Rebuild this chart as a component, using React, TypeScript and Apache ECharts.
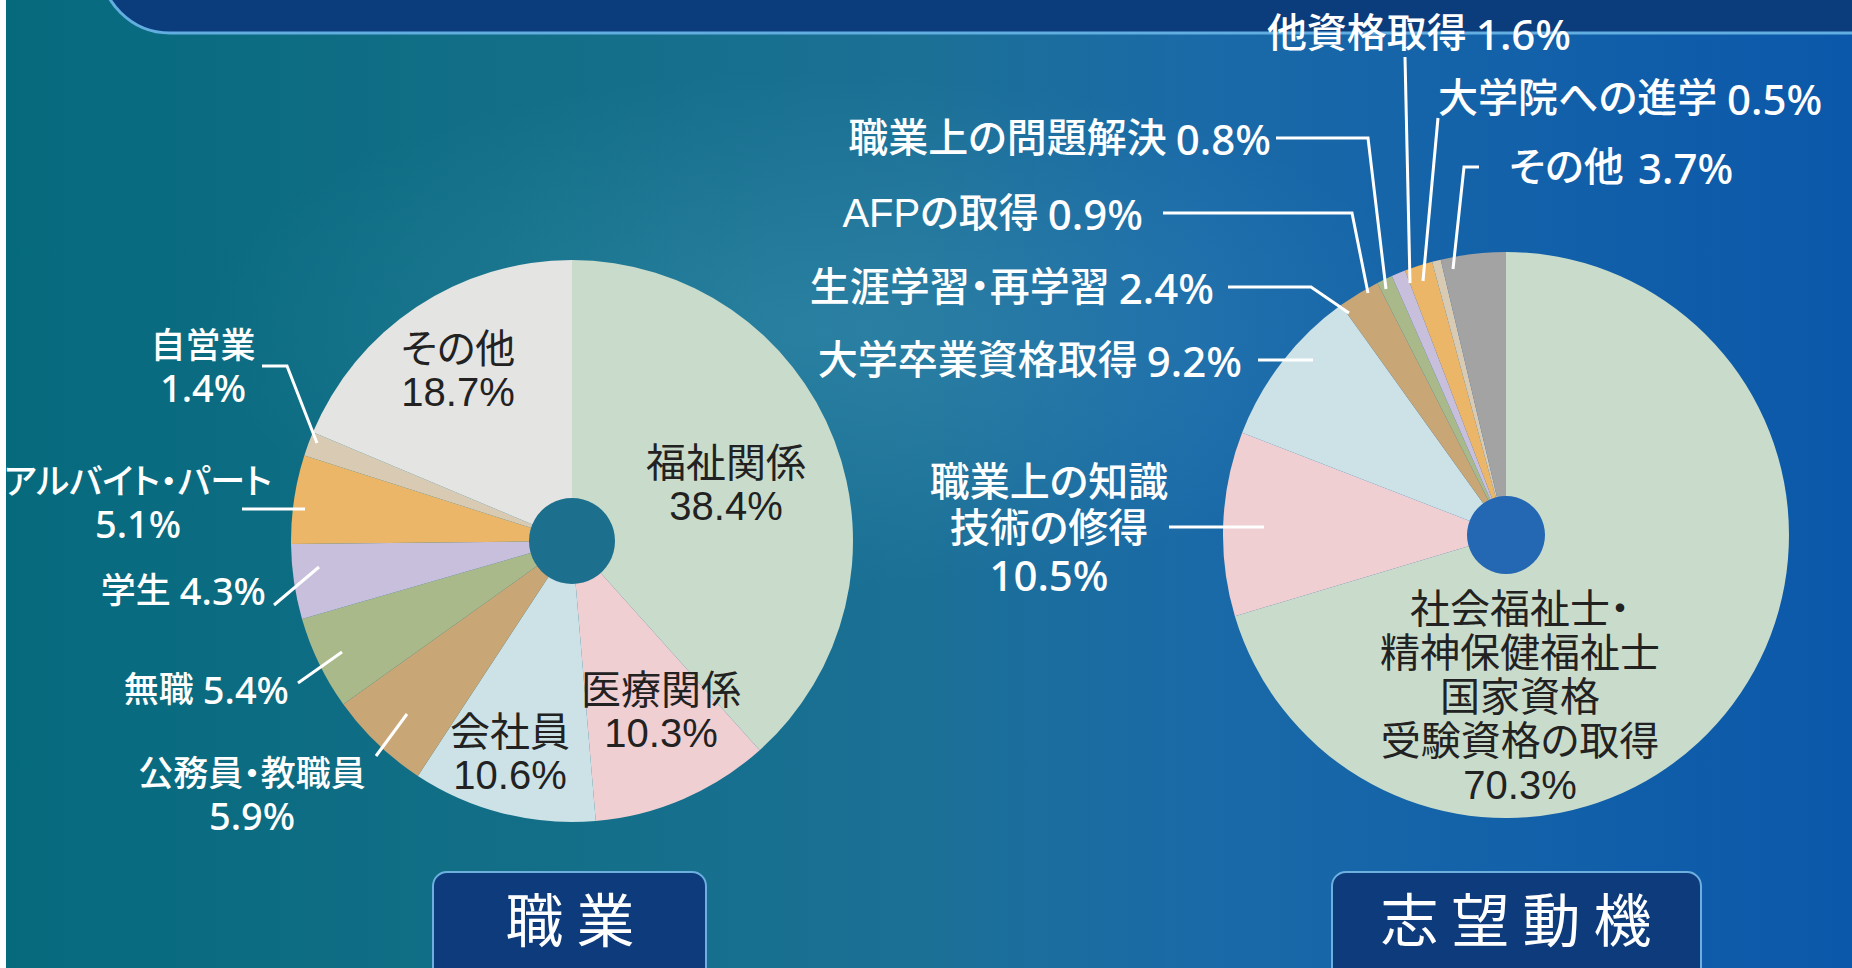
import React, { useEffect, useRef } from "react";
import * as echarts from "echarts";

// ---- data ----
const occupationNames = [
  "福祉関係",
  "医療関係",
  "会社員",
  "公務員・教職員",
  "無職",
  "学生",
  "アルバイト・パート",
  "自営業",
  "その他",
];
const occupationValues = [38.4, 10.3, 10.6, 5.9, 5.4, 4.3, 5.1, 1.4, 18.7];

const motiveNames = [
  "社会福祉士・\n精神保健福祉士\n国家資格\n受験資格の取得",
  "職業上の知識\n技術の修得",
  "大学卒業資格取得",
  "生涯学習・再学習",
  "AFPの取得",
  "職業上の問題解決",
  "他資格取得",
  "大学院への進学",
  "その他",
];
const motiveValues = [70.3, 10.5, 9.2, 2.4, 0.9, 0.8, 1.6, 0.5, 3.7];

const chartTitles = ["職 業", "志 望 動 機"];

// ---- styles ----
const occupationColors = ["#c9dccb", "#efcfd2", "#cde2e6", "#c9a676", "#aab98a", "#c8bfdc", "#ecb668", "#d9cbb3", "#e4e4e2"];
const motiveColors = ["#c9dccb", "#efcfd2", "#cde2e6", "#c9a676", "#aab98a", "#c8bfdc", "#ecb668", "#d9cbb3", "#a3a3a3"];

type Spot = {
  x: number;
  y: number;
  align: "left" | "center" | "right";
  inside?: boolean;
  inline?: boolean;
  line?: number[][];
};

const occupationSpots: Spot[] = [
  { x: 726, y: 484, align: "center", inside: true },
  { x: 661, y: 711, align: "center", inside: true },
  { x: 510, y: 753, align: "center", inside: true },
  { x: 252, y: 794, align: "center", line: [[376, 756], [407, 714]] },
  { x: 289, y: 689, align: "right", inline: true, line: [[298, 683], [342, 652]] },
  { x: 266, y: 590, align: "right", inline: true, line: [[274, 605], [319, 567]] },
  { x: 138, y: 502, align: "center", line: [[242, 509], [305, 509]] },
  { x: 203, y: 366, align: "center", line: [[262, 366], [287, 366], [317, 443]] },
  { x: 458, y: 370, align: "center", inside: true },
];

const motiveSpots: Spot[] = [
  { x: 1520, y: 697, align: "center", inside: true },
  { x: 1049, y: 528, align: "center", line: [[1169, 527], [1264, 527]] },
  { x: 1242, y: 360, align: "right", inline: true, line: [[1258, 360], [1313, 360]] },
  { x: 1214, y: 287, align: "right", inline: true, line: [[1228, 287], [1311, 287], [1349, 313]] },
  { x: 1143, y: 213, align: "right", inline: true, line: [[1163, 213], [1352, 213], [1368, 293]] },
  { x: 1271, y: 138, align: "right", inline: true, line: [[1276, 138], [1368, 138], [1386, 289]] },
  { x: 1419, y: 33, align: "center", inline: true, line: [[1405, 57], [1410, 283]] },
  { x: 1438, y: 98, align: "left", inline: true, line: [[1438, 118], [1423, 281]] },
  { x: 1509, y: 167, align: "left", inline: true, line: [[1479, 167], [1464, 167], [1453, 269]] },
];

const INSIDE_FONT = "'Liberation Sans', 'Noto Sans CJK JP', sans-serif";
const NAME_FONT = "'Liberation Sans', 'Noto Sans CJK JP', sans-serif";
const CJK_FONT = "'Noto Sans CJK JP', sans-serif";
const NUM_FONT = "'Noto Sans', 'Liberation Sans', sans-serif";

function buildData(
  names: string[],
  values: number[],
  colors: string[],
  spots: Spot[],
  nameSize: number,
  valueSize: number,
  outLH: number,
  insideLH: number
) {
  return names.map((name, i) => {
    const s = spots[i];
    const formatter = s.inline ? "{n|{b}}{vi|{c}%}" : "{n|{b}}\n{v|{c}%}";
    const valueStyle = { fontFamily: NUM_FONT, fontSize: valueSize, fontWeight: 500, color: "#ffffff", lineHeight: outLH };
    return {
      name,
      value: values[i],
      itemStyle: { color: colors[i] },
      label: s.inside
        ? {
            position: "inside",
            formatter: "{b}\n{c}%",
            fontFamily: INSIDE_FONT,
            color: "#222222",
            fontSize: 40,
            lineHeight: insideLH,
            fontWeight: 400,
          }
        : {
            position: "outside",
            formatter,
            color: "#ffffff",
            lineHeight: outLH,
            rich: {
              n: { fontFamily: NAME_FONT, fontSize: nameSize, fontWeight: 500, color: "#ffffff", lineHeight: outLH },
              v: valueStyle,
              vi: { ...valueStyle, padding: [0, 0, 0, 9] },
            },
          },
      labelLine: { show: false },
    };
  });
}

function layoutFor(spots: Spot[]) {
  return (params: any) => {
    const s = spots[params.dataIndex];
    return { x: s.x, y: s.y, align: s.align, verticalAlign: "middle" };
  };
}

function leaderLines(spots: Spot[]) {
  return spots
    .filter((s) => s.line)
    .map((s) => ({
      type: "polyline",
      z: 90,
      silent: true,
      shape: { points: s.line },
      style: { stroke: "#ffffff", lineWidth: 3, fill: null },
    }));
}

export default function App() {
  const ref = useRef<HTMLDivElement>(null);

  useEffect(() => {
    if (!ref.current) return;
    const chart = echarts.init(ref.current, undefined, { renderer: "svg" });
    const W = 1852;
    const H = 968;

    const option: any = {
      animation: false,
      textStyle: { fontFamily: CJK_FONT },
      graphic: [
        {
          type: "rect",
          z: -10,
          silent: true,
          shape: { x: 0, y: 0, width: W, height: H },
          style: {
            fill: new echarts.graphic.LinearGradient(0, 0, 1, 0, [
              { offset: 0, color: "#066a7d" },
              { offset: 0.3, color: "#136f88" },
              { offset: 0.5, color: "#1b7096" },
              { offset: 0.65, color: "#1a6aa8" },
              { offset: 1, color: "#0b58aa" },
            ]),
          },
        },
        {
          type: "ellipse",
          z: -9,
          silent: true,
          shape: { cx: 820, cy: 330, rx: 620, ry: 260 },
          style: {
            fill: new echarts.graphic.RadialGradient(0.5, 0.5, 0.5, [
              { offset: 0, color: "rgba(120,200,230,0.18)" },
              { offset: 1, color: "rgba(120,200,230,0)" },
            ]),
          },
        },
        {
          type: "rect",
          z: -8,
          silent: true,
          shape: { x: 100, y: -80, width: W, height: 113, r: [0, 0, 0, 70] },
          style: { fill: "#0b3c7c", stroke: "#63aee0", lineWidth: 3 },
        },
        { type: "rect", z: 60, silent: true, shape: { x: 0, y: 0, width: 6, height: H }, style: { fill: "#ffffff" } },
        { type: "circle", z: 100, silent: true, shape: { cx: 572, cy: 541, r: 43 }, style: { fill: "#1d6f8e" } },
        { type: "circle", z: 100, silent: true, shape: { cx: 1506, cy: 535, r: 39 }, style: { fill: "#2467b2" } },
        ...leaderLines(occupationSpots),
        ...leaderLines(motiveSpots),
        {
          type: "rect",
          z: 50,
          silent: true,
          shape: { x: 433, y: 872, width: 273, height: 112, r: 14 },
          style: { fill: "#0d3b7c", stroke: "#6db0e0", lineWidth: 2 },
        },
        {
          type: "text",
          z: 51,
          silent: true,
          x: 570,
          y: 917,
          style: { text: chartTitles[0], fill: "#ffffff", fontSize: 58, fontFamily: CJK_FONT, align: "center", verticalAlign: "middle" },
        },
        {
          type: "rect",
          z: 50,
          silent: true,
          shape: { x: 1332, y: 872, width: 369, height: 112, r: 14 },
          style: { fill: "#0d3b7c", stroke: "#6db0e0", lineWidth: 2 },
        },
        {
          type: "text",
          z: 51,
          silent: true,
          x: 1516,
          y: 917,
          style: { text: chartTitles[1], fill: "#ffffff", fontSize: 58, fontFamily: CJK_FONT, align: "center", verticalAlign: "middle" },
        },
      ],
      series: [
        {
          type: "pie",
          center: [572, 541],
          radius: [0, 281],
          startAngle: 90,
          clockwise: true,
          avoidLabelOverlap: false,
          silent: true,
          labelLayout: layoutFor(occupationSpots),
          data: buildData(occupationNames, occupationValues, occupationColors, occupationSpots, 35, 38, 41, 43),
        },
        {
          type: "pie",
          center: [1506, 535],
          radius: [0, 283],
          startAngle: 90,
          clockwise: true,
          avoidLabelOverlap: false,
          silent: true,
          labelLayout: layoutFor(motiveSpots),
          data: buildData(motiveNames, motiveValues, motiveColors, motiveSpots, 40, 42, 46, 44),
        },
      ],
    };
    chart.setOption(option);
    return () => chart.dispose();
  }, []);

  return (
    <>
      <style>{`body{margin:0;overflow:hidden;} #root svg text{font-feature-settings:"palt" 1;}`}</style>
      <div ref={ref} style={{ position: "absolute", left: 0, top: 0, width: 1852, height: 968 }} />
    </>
  );
}
